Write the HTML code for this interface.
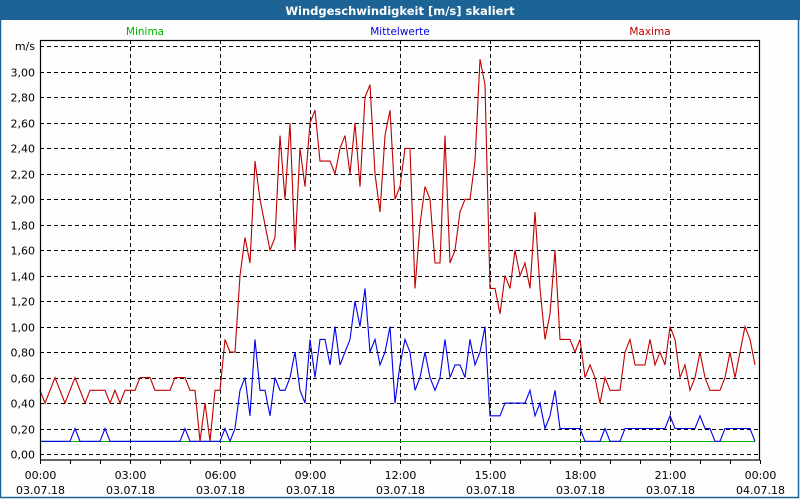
<!DOCTYPE html>
<html><head><meta charset="utf-8"><style>
html,body{margin:0;padding:0;background:#fff}
svg{display:block;font-family:"DejaVu Sans","Liberation Sans",sans-serif}
</style></head><body>
<svg id="s" width="800" height="500" xmlns="http://www.w3.org/2000/svg">
<rect x="0" y="0" width="800" height="500" fill="#fdfefd"/>
<rect x="0" y="0" width="800" height="20" fill="#1c6496"/>
<rect x="0.5" y="0.5" width="798" height="497" fill="none" stroke="#1c6496" stroke-width="1.5"/>
<text x="400" y="15" fill="#fff" font-size="11.5" font-weight="bold" text-anchor="middle">Windgeschwindigkeit [m/s] skaliert</text>
<text x="145" y="35" fill="#00b000" font-size="10.5" text-anchor="middle">Minima</text>
<text x="400" y="35" fill="#0000e0" font-size="10.5" text-anchor="middle">Mittelwerte</text>
<text x="650" y="35" fill="#c00000" font-size="10.5" text-anchor="middle">Maxima</text>
<g id="grid" shape-rendering="crispEdges"></g>
<g id="lab" font-size="11" fill="#000"></g>
<polyline id="g" fill="none" stroke="#00b000" stroke-width="1.2" shape-rendering="crispEdges"/>
<polyline id="b" fill="none" stroke="#0000ee" stroke-width="1.1"/>
<polyline id="r" fill="none" stroke="#c00000" stroke-width="1.1"/>
<rect x="40.5" y="40.5" width="719" height="419.5" fill="none" stroke="#000" stroke-width="1.2"/>
</svg>
<script>
var NS="http://www.w3.org/2000/svg";
function el(p,t,a,txt){var e=document.createElementNS(NS,t);for(var k in a)e.setAttribute(k,a[k]);if(txt)e.textContent=txt;p.appendChild(e);return e;}
var grid=document.getElementById('grid'),lab=document.getElementById('lab');
function Y(v){return 454-v*127.35;}
for(var i=0;i<=15;i++){var y=Math.round(Y(i*0.2))+0.5;
 el(grid,'line',{x1:40,x2:760,y1:y,y2:y,stroke:'#000','stroke-dasharray':'4,3','stroke-width':1});
 el(lab,'text',{x:35,y:y+4,'text-anchor':'end'},(i*0.2).toFixed(2).replace('.',','));}
el(grid,'line',{x1:40,x2:760,y1:46.5,y2:46.5,stroke:'#000','stroke-dasharray':'4,3','stroke-width':1});
el(lab,'text',{x:35,y:50,'text-anchor':'end'},'m/s');
for(var h=0;h<=24;h++){var x=40+h*30+0.5;
 el(grid,'line',{x1:x,x2:x,y1:460,y2:464,stroke:'#000','stroke-width':1});
 if(h%3==0){
  if(h>0&&h<24)el(grid,'line',{x1:x,x2:x,y1:40,y2:460,stroke:'#000','stroke-dasharray':'4,3','stroke-width':1});
  var hh=(h%24<10?'0':'')+(h%24)+':00';
  el(lab,'text',{x:x,y:479,'text-anchor':'middle'},hh);
  el(lab,'text',{x:x,y:494,'text-anchor':'middle'},h==24?'04.07.18':'03.07.18');
 }}
var R=[5,4,5,6,5,4,5,6,5,4,5,5,5,5,4,5,4,5,5,5,6,6,6,5,5,5,5,6,6,6,5,5,1,4,1,5,
5,9,8,8,14,17,15,23,20,18,16,17,25,20,26,16,24,21,26,27,23,23,23,22,24,25,22,26,21,28,29,22,19,25,27,20,
21,24,24,13,18,21,20,15,15,25,15,16,19,20,20,23,31,29,13,13,11,14,13,16,14,15,13,19,13,9,11,16,9,9,9,8,
9,6,7,6,4,6,5,5,5,8,9,7,7,7,9,7,8,7,10,9,6,7,5,6,8,6,5,5,5,6,8,6,8,10,9,7];
var B=[1,1,1,1,1,1,1,2,1,1,1,1,1,2,1,1,1,1,1,1,1,1,1,1,1,1,1,1,1,2,1,1,1,1,1,1,
1,2,1,2,5,6,3,9,5,5,3,6,5,5,6,8,5,4,9,6,9,9,7,10,7,8,9,12,10,13,8,9,7,8,10,4,
7,9,8,5,6,8,6,5,6,9,6,7,7,6,9,7,8,10,3,3,3,4,4,4,4,4,5,3,4,2,3,5,2,2,2,2,
2,1,1,1,1,2,1,1,1,2,2,2,2,2,2,2,2,2,3,2,2,2,2,2,3,2,2,1,1,2,2,2,2,2,2,1];
function pts(a){return a.map(function(v,i){return (40+5*i)+','+Y(v/10).toFixed(1);}).join(' ');}
document.getElementById('r').setAttribute('points',pts(R));
document.getElementById('b').setAttribute('points',pts(B));
document.getElementById('g').setAttribute('points','40,'+(Math.round(Y(0.1))+0.5)+' 755,'+(Math.round(Y(0.1))+0.5));
</script>
</body></html>
